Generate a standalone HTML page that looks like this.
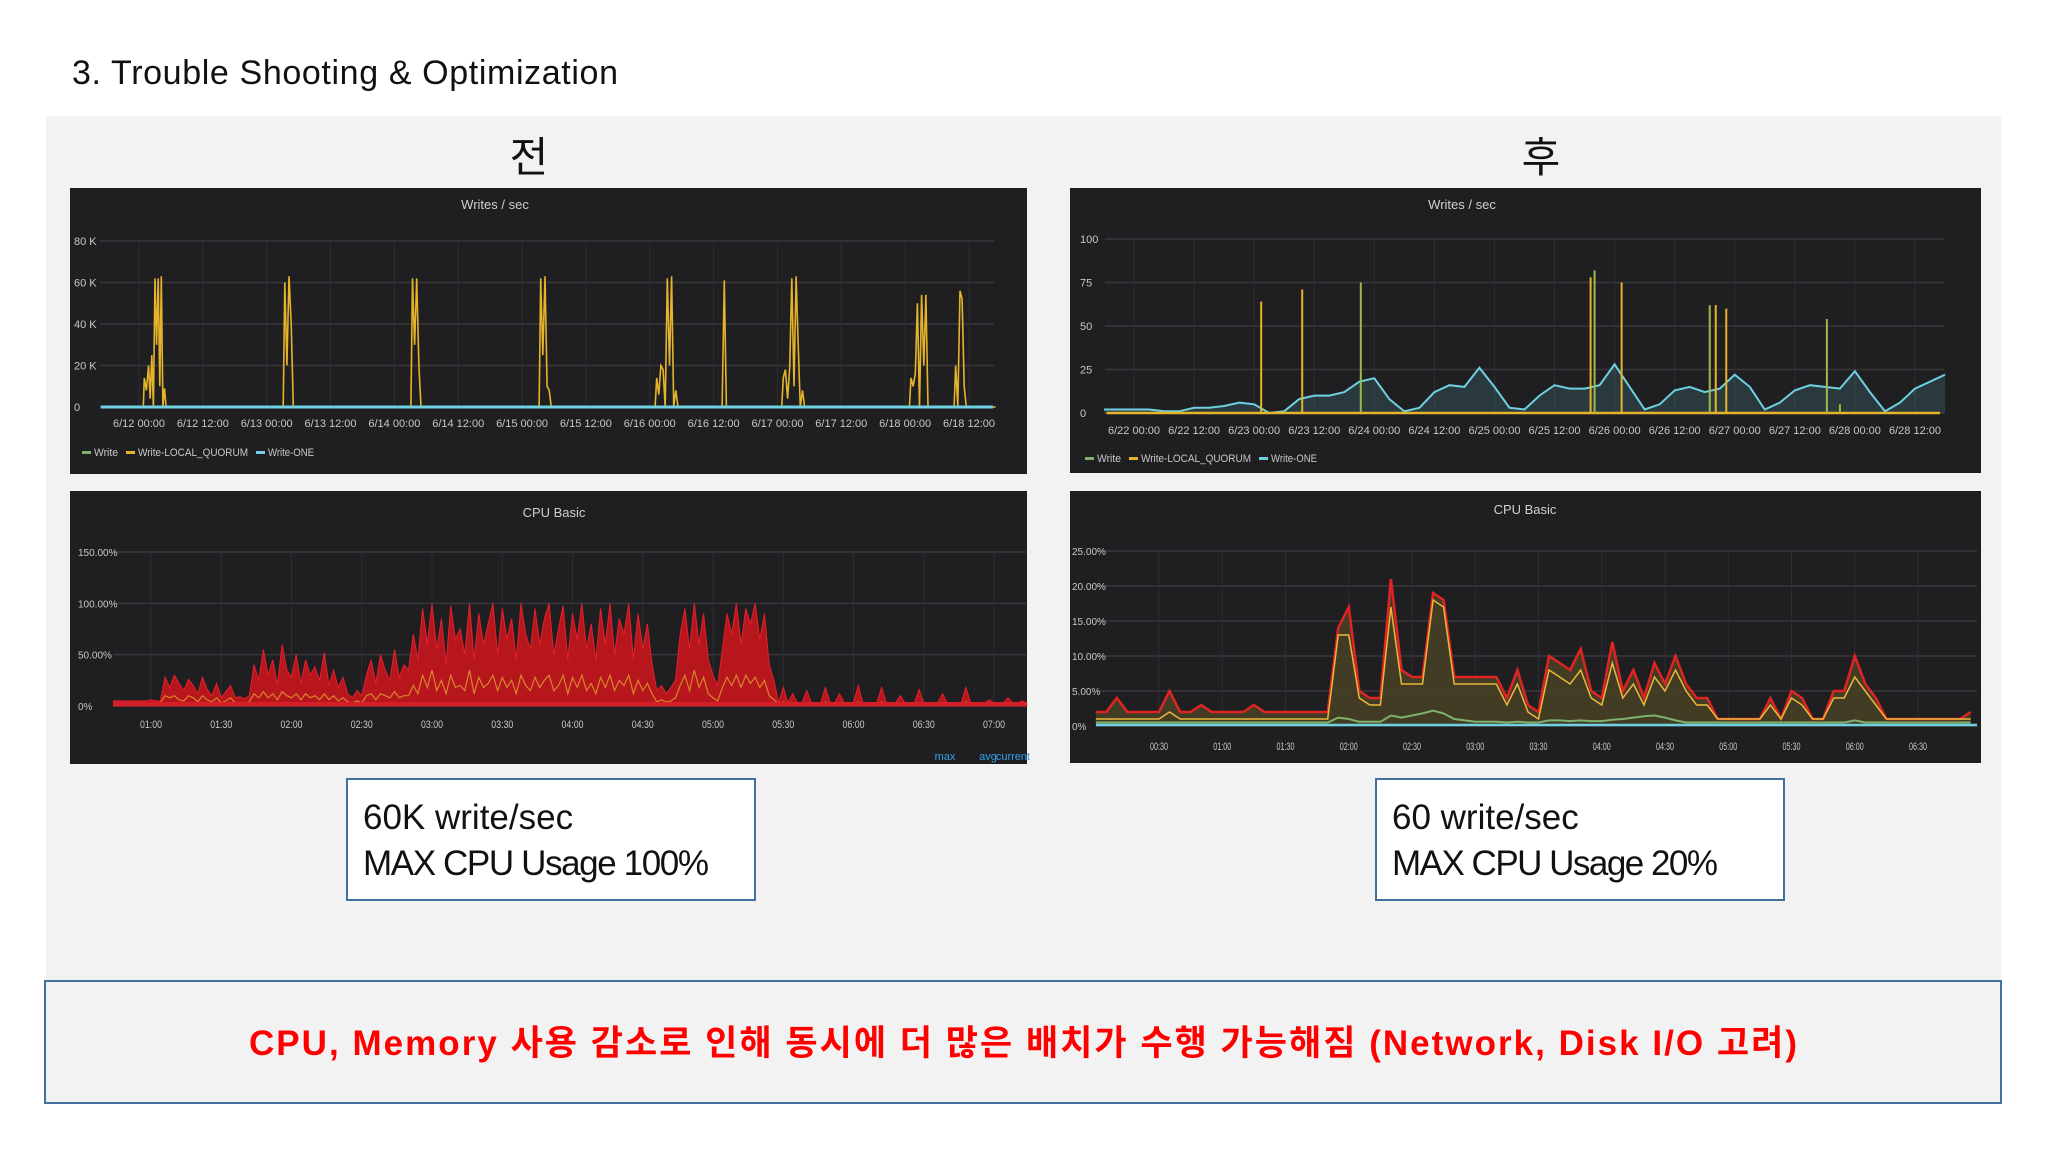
<!DOCTYPE html>
<html><head><meta charset="utf-8">
<style>
html,body{margin:0;padding:0;background:#fff;}
svg{display:block;}
text{font-family:"Liberation Sans","Noto Sans CJK KR",sans-serif;}
</style></head>
<body>
<svg id="root" width="2048" height="1152" viewBox="0 0 2048 1152" xmlns="http://www.w3.org/2000/svg">
<rect x="0" y="0" width="2048" height="1152" fill="#ffffff"/>
<text x="72" y="84" font-size="34" fill="#111" textLength="546">3. Trouble Shooting &amp; Optimization</text>
<rect x="46" y="116" width="1955" height="866" fill="#f2f2f2"/>
<text x="529" y="172" font-size="42" text-anchor="middle" fill="#111">전</text>
<text x="1541" y="172" font-size="42" text-anchor="middle" fill="#111">후</text>

<g id="p1"></g>
<g id="p2"></g>
<g id="p3"></g>
<g id="p4"></g>

<g>
<rect x="347" y="779" width="408" height="121" fill="#fff" stroke="#41719c" stroke-width="2"/>
<text x="363" y="829" font-size="35" fill="#111">60K write/sec</text>
<text x="363" y="875" font-size="35" fill="#111" textLength="346">MAX CPU Usage 100%</text>
</g>
<g>
<rect x="1376" y="779" width="408" height="121" fill="#fff" stroke="#41719c" stroke-width="2"/>
<text x="1392" y="829" font-size="35" fill="#111">60 write/sec</text>
<text x="1392" y="875" font-size="35" fill="#111" textLength="326">MAX CPU Usage 20%</text>
</g>
<g>
<rect x="45" y="981" width="1956" height="122" fill="#f2f2f2" stroke="#41719c" stroke-width="2"/>
<text x="1023" y="1055" font-size="35" font-weight="bold" fill="#ff0000" text-anchor="middle" textLength="1548">CPU, Memory 사용 감소로 인해 동시에 더 많은 배치가 수행 가능해짐 (Network, Disk I/O 고려)</text>
</g>
</svg>
<script>
// ---------- data ----------
const w1TickLabels = ["6/12 00:00","6/12 12:00","6/13 00:00","6/13 12:00","6/14 00:00","6/14 12:00","6/15 00:00","6/15 12:00","6/16 00:00","6/16 12:00","6/17 00:00","6/17 12:00","6/18 00:00","6/18 12:00"];
const w1YTicks = [0,20000,40000,60000,80000];
const w1YLabels = ["0","20 K","40 K","60 K","80 K"];
const w1QuorumHours = [-7,
0.8,1.0,1.4,1.8,2.1,2.4,2.7,3.0,3.3,3.6,3.9,4.2,4.5,4.8,5.1,5.5,5.8,
27.1,27.4,27.8,28.2,28.6,29.0,29.3,
51.1,51.4,51.8,52.2,52.6,53.0,53.3,
75.2,75.5,75.9,76.3,76.7,77.1,77.5,
97.0,97.3,97.7,98.1,98.5,98.9,99.3,99.7,100.1,100.5,100.9,101.3,
109.6,110.0,110.4,
120.8,121.1,121.5,121.9,122.3,122.7,123.1,123.5,123.9,124.3,124.7,125.1,125.5,
144.8,145.1,145.5,145.9,146.3,146.7,147.1,147.5,147.9,148.3,148.7,149.0,
153.2,153.5,153.9,154.3,154.7,155.1,155.5,
161];
const w1QuorumValues = [0,
0,14000,8000,20000,4000,25000,0,62000,30000,62000,10000,63000,0,9000,0,0,0,
0,60000,20000,63000,40000,0,0,
0,62000,30000,62000,20000,0,0,
0,62000,25000,63000,10000,8000,0,
0,14000,6000,20000,18000,0,62000,20000,63000,0,8000,0,
0,61000,0,
0,14000,18000,4000,19000,62000,10000,63000,30000,0,8000,0,0,
0,14000,10000,16000,50000,0,54000,20000,54000,0,0,0,
0,20000,0,56000,52000,10000,0,
0];
const w1OneValue = 0;

const c1TickLabels = ["01:00","01:30","02:00","02:30","03:00","03:30","04:00","04:30","05:00","05:30","06:00","06:30","07:00"];
const c1YTicks = [0,50,100,150];
const c1YLabels = ["0%","50.00%","100.00%","150.00%"];
const c1StartMinute = 44;
const c1Values = [5,5,5,5,5,5,5,5,6,5,5,
28,18,30,22,15,26,20,12,28,16,10,22,8,14,20,
8,9,7,10,
40,25,55,30,45,20,60,35,28,50,22,45,30,38,25,52,20,35,18,28,12,
8,15,10,
30,45,22,50,35,25,55,28,40,35,
70,45,95,60,100,55,85,40,98,65,75,50,100,45,90,60,80,100,50,95,65,85,45,100,70,55,95,60,85,100,50,75,98,45,90,65,100,55,80,45,95,60,100,50,85,70,100,45,90,55,80,40,
15,20,12,18,25,
70,95,55,100,60,90,45,30,
20,
55,90,70,100,60,95,80,100,65,90,40,25,
3,18,3,12,3,3,15,3,3,3,18,3,3,12,3,3,3,20,3,3,3,3,18,3,3,3,10,3,3,3,16,3,3,3,3,12,3,3,3,3,18,3,3,3,3,6,3,3,3,8,3,3,5,3];
const c1AvgValues = [3,3,3,3,3,3,3,3,3,3,3,
10,8,10,6,5,10,8,4,10,6,4,8,3,5,8,
3,3,3,4,
12,8,14,8,12,6,14,10,8,12,6,12,8,10,6,12,6,10,5,8,4,
3,5,3,
10,12,6,12,10,8,14,8,10,10,
20,12,30,18,35,15,25,12,30,18,20,15,35,12,28,18,22,30,15,28,18,25,12,30,20,15,28,18,25,30,15,20,30,12,28,18,30,15,22,12,28,18,30,15,25,20,30,12,25,15,22,12,
4,6,4,5,8,
20,30,15,35,18,28,12,8,
5,
18,28,20,30,18,30,22,28,18,25,10,6,
2,4,2,3,2,2,3,2,2,2,4,2,2,3,2,2,2,4,2,2,2,2,4,2,2,2,3,2,2,2,3,2,2,2,2,3,2,2,2,2,4,2,2,2,2,2,2,2,2,2,2,2,2,2];

const w2TickLabels = ["6/22 00:00","6/22 12:00","6/23 00:00","6/23 12:00","6/24 00:00","6/24 12:00","6/25 00:00","6/25 12:00","6/26 00:00","6/26 12:00","6/27 00:00","6/27 12:00","6/28 00:00","6/28 12:00"];
const w2YTicks = [0,25,50,75,100];
const w2YLabels = ["0","25","50","75","100"];
const w2OneStartHour = -6;
const w2OneValues = [2,2,2,2,1,1,3,3,4,6,5,0,1,8,10,10,12,18,20,8,1,3,12,16,15,26,15,3,2,10,16,14,14,16,28,15,2,5,13,15,12,14,22,15,2,6,13,16,15,14,24,12,1,6,14,18,22];
const w2SpikeHours = [25.4,33.6,45.3,91.2,92.0,97.4,115.0,116.2,118.3,138.4,141.0];
const w2SpikeValues = [64,71,75,78,82,75,62,62,60,54,5];
const w2SpikeColors = ["#e5b42a","#e5b42a","#9fb84a","#e5b42a","#9fb84a","#e5b42a","#9fb84a","#e5b42a","#e5b42a","#9fb84a","#9fb84a"];

const c2TickLabels = ["00:30","01:00","01:30","02:00","02:30","03:00","03:30","04:00","04:30","05:00","05:30","06:00","06:30"];
const c2YTicks = [0,5,10,15,20,25];
const c2YLabels = ["0%","5.00%","10.00%","15.00%","20.00%","25.00%"];
const c2Values = [2,2,4,2,2,2,2,5,2,2,3,2,2,2,2,3,2,2,2,2,2,2,2,14,17,5,4,4,21,8,7,7,19,18,7,7,7,7,7,4,8,3,2,10,9,8,11,5,4,12,5,8,4,9,6,10,6,4,4,1,1,1,1,1,4,1,5,4,1,1,5,5,10,6,4,1,1,1,1,1,1,1,1,2];
const c2AvgValues = [1,1,1,1,1,1,1,2,1,1,1,1,1,1,1,1,1,1,1,1,1,1,1,13,13,4,3,3,17,6,6,6,18,17,6,6,6,6,6,3,6,2,1,8,7,6,8,4,3,9,4,6,3,7,5,8,5,3,3,1,1,1,1,1,3,1,4,3,1,1,4,4,7,5,3,1,1,1,1,1,1,1,1,1];
const c2SysValues = [0.5,0.5,0.5,0.5,0.5,0.5,0.5,0.5,0.5,0.5,0.5,0.5,0.5,0.5,0.5,0.5,0.5,0.5,0.5,0.5,0.5,0.5,0.5,1.2,1.0,0.6,0.6,0.6,1.5,1.2,1.5,1.8,2.2,1.8,1.0,0.8,0.6,0.6,0.6,0.5,0.6,0.5,0.5,0.8,0.8,0.7,0.8,0.7,0.7,0.9,1.0,1.2,1.4,1.5,1.2,0.8,0.5,0.5,0.5,0.5,0.5,0.5,0.5,0.5,0.5,0.5,0.5,0.5,0.5,0.5,0.5,0.5,0.8,0.5,0.5,0.5,0.5,0.5,0.5,0.5,0.5,0.5,0.5,0.5];

// ---------- helpers ----------
const NS = "http://www.w3.org/2000/svg";
function mk(parent, tag, attrs, txt){
  const e = document.createElementNS(NS, tag);
  for (const k in attrs) e.setAttribute(k, attrs[k]);
  if (txt !== undefined) e.textContent = txt;
  parent.appendChild(e);
  return e;
}
function pathFrom(xs, ys){
  const n = Math.min(xs.length, ys.length);
  let d = "";
  for (let i=0;i<n;i++){
    if (!isFinite(xs[i]) || !isFinite(ys[i])) continue;
    d += (d ? "L" : "M") + xs[i].toFixed(1) + "," + ys[i].toFixed(1);
  }
  return d;
}
function panel(g, x, y, w, h, title, tx, ty){
  const r = mk(g,"rect",{x:x,y:y,width:w,height:h,fill:"#1f1f22"});
  
  
  const t = mk(g,"text",{x:tx,y:ty,"font-size":13,fill:"#d0d0d0","text-anchor":"middle"},title);
  
  
}
function yAxis(g, ticks, labels, ys, x0, x1, lx, fs){
  ticks.forEach((v,i)=>{
    const yy = ys(v);
    const l = mk(g,"line",{x1:x0,x2:x1,y1:yy,y2:yy,stroke:"#38383c","stroke-width":1.5});
    
    
    const t = mk(g,"text",{x:lx,y:yy+4,"font-size":fs,fill:"#c8c8c8"},labels[i]);
    
    
  });
}
function xAxis(g, labels, xOf, y0, y1, ly, fs, lw){
  labels.forEach((lab,i)=>{
    const xx = xOf(i);
    const l = mk(g,"line",{x1:xx,x2:xx,y1:y0,y2:y1,stroke:"#2e2e32","stroke-width":1});
    
    
    const t = mk(g,"text",{x:xx,y:ly,"font-size":fs,fill:"#c8c8c8","text-anchor":"middle",textLength:lw,lengthAdjust:"spacingAndGlyphs"},lab);
    
    
  });
}
function legend(g, x, y, items){
  let cx = x;
  items.forEach(it=>{
    const s = mk(g,"rect",{x:cx,y:y-4,width:9,height:3,fill:it.c});
    
    
    const t = mk(g,"text",{x:cx+12,y:y+1,"font-size":11,fill:"#c8c8c8",textLength:it.w,lengthAdjust:"spacingAndGlyphs"},it.t);
    
    
    cx += it.w + 20;
  });
}

// ---------- panel 1 ----------
(function(){
  const g = document.getElementById("p1");
  panel(g,70,188,957,286,"Writes / sec",495,209);
  const X = h => 139 + h*(969-139)/156;
  const Y = v => 407 - v*(407-241)/80000;
  yAxis(g,w1YTicks,w1YLabels,Y,100,994,74,11);
  xAxis(g,w1TickLabels,i=>X(i*12),241,407,427,11,52);
  const xs = w1QuorumHours.map(X), ys = w1QuorumValues.map(Y);
  const p = mk(g,"path",{d:pathFrom(xs,ys),fill:"none",stroke:"#e5b42a","stroke-width":1.6});
  
  
  const one = mk(g,"line",{x1:X(-7.2),x2:X(160.5),y1:Y(w1OneValue),y2:Y(w1OneValue),stroke:"#6ed0e0","stroke-width":3});
  
  
  legend(g,82,455,[{t:"Write",c:"#7eb26d",w:24},{t:"Write-LOCAL_QUORUM",c:"#e5b42a",w:110},{t:"Write-ONE",c:"#6ed0e0",w:46}]);
})();

// ---------- panel 2 ----------
(function(){
  const g = document.getElementById("p2");
  panel(g,70,491,957,273,"CPU Basic",554,517);
  const X = m => 151 + (m-60)*(994-151)/360;
  const Y = v => 706 - v*(706-552)/150;
  yAxis(g,c1YTicks,c1YLabels,Y,113,1026,78,10);
  xAxis(g,c1TickLabels,i=>X(60+i*30),552,706,728,11,22);
  const xs = c1Values.map((v,i)=>X(c1StartMinute+2*i));
  const ys = c1Values.map(Y);
  const d = pathFrom(xs,ys)+"L"+xs[xs.length-1].toFixed(1)+","+Y(0)+"L"+xs[0].toFixed(1)+","+Y(0)+"Z";
  const a = mk(g,"path",{d:d,fill:"#c8151d","fill-opacity":0.9,stroke:"#e5202a","stroke-width":1});
  
  
  const ay = c1AvgValues.map(Y);
  const l2 = mk(g,"path",{d:pathFrom(xs,ay),fill:"none",stroke:"#e0a030","stroke-width":1.2,"stroke-opacity":0.8});
  
  
  const base = mk(g,"line",{x1:113,x2:1026,y1:Y(2),y2:Y(2),stroke:"#d5202a","stroke-width":4});
  
  
  [["max",945],["avg",988],["current",1013]].forEach(k=>{
    const t = mk(g,"text",{x:k[1],y:760,"font-size":11,fill:"#33a2e5","text-anchor":"middle"},k[0]);
    
    
  });
})();

// ---------- panel 3 ----------
(function(){
  const g = document.getElementById("p3");
  panel(g,1070,188,911,285,"Writes / sec",1462,209);
  const X = h => 1134 + h*(1915-1134)/156;
  const Y = v => 413 - v*(413-239)/100;
  yAxis(g,w2YTicks,w2YLabels,Y,1105,1944,1080,11);
  xAxis(g,w2TickLabels,i=>X(i*12),239,413,434,11,52);
  const xs = w2OneValues.map((v,i)=>X(w2OneStartHour+3*i));
  const ys = w2OneValues.map(Y);
  const d = pathFrom(xs,ys)+"L"+xs[xs.length-1].toFixed(1)+","+Y(0)+"L"+xs[0].toFixed(1)+","+Y(0)+"Z";
  const a = mk(g,"path",{d:d,fill:"#6ed0e0","fill-opacity":0.15,stroke:"none"});
  
  
  const ln = mk(g,"path",{d:pathFrom(xs,ys),fill:"none",stroke:"#6ed0e0","stroke-width":2});
  
  
  const q = mk(g,"line",{x1:X(-5.5),x2:X(161),y1:Y(0),y2:Y(0),stroke:"#e5b42a","stroke-width":2.5});
  
  
  w2SpikeHours.forEach((h,i)=>{
    const s = mk(g,"line",{x1:X(h),x2:X(h),y1:Y(0),y2:Y(w2SpikeValues[i]),stroke:w2SpikeColors[i],"stroke-width":2});
    
    
  });
  legend(g,1085,461,[{t:"Write",c:"#7eb26d",w:24},{t:"Write-LOCAL_QUORUM",c:"#e5b42a",w:110},{t:"Write-ONE",c:"#6ed0e0",w:46}]);
})();

// ---------- panel 4 ----------
(function(){
  const g = document.getElementById("p4");
  panel(g,1070,491,911,272,"CPU Basic",1525,514);
  const X = m => 1159 + (m-30)*(1918-1159)/360;
  const Y = v => 726 - v*(726-551)/25;
  yAxis(g,c2YTicks,c2YLabels,Y,1096,1977,1072,10);
  xAxis(g,c2TickLabels,i=>X(30+i*30),551,726,750,11,18);
  const xs = c2Values.map((v,i)=>X(i*5));
  const ys = c2Values.map(Y);
  const d = pathFrom(xs,ys)+"L"+xs[xs.length-1].toFixed(1)+","+Y(0)+"L"+xs[0].toFixed(1)+","+Y(0)+"Z";
  const a = mk(g,"path",{d:d,fill:"#4a4226","fill-opacity":0.85,stroke:"none"});
  
  
  const r = mk(g,"path",{d:pathFrom(xs,ys),fill:"none",stroke:"#e02424","stroke-width":2.5});
  
  
  const o = mk(g,"path",{d:pathFrom(xs,c2AvgValues.map(Y)),fill:"none",stroke:"#eab839","stroke-width":1.5});
  
  
  const gr = mk(g,"path",{d:pathFrom(xs,c2SysValues.map(Y)),fill:"none",stroke:"#7eb26d","stroke-width":2});
  
  
  const c = mk(g,"line",{x1:1096,x2:1977,y1:Y(0)-1,y2:Y(0)-1,stroke:"#6ed0e0","stroke-width":2.5});
  
  
})();
</script>
</body></html>
